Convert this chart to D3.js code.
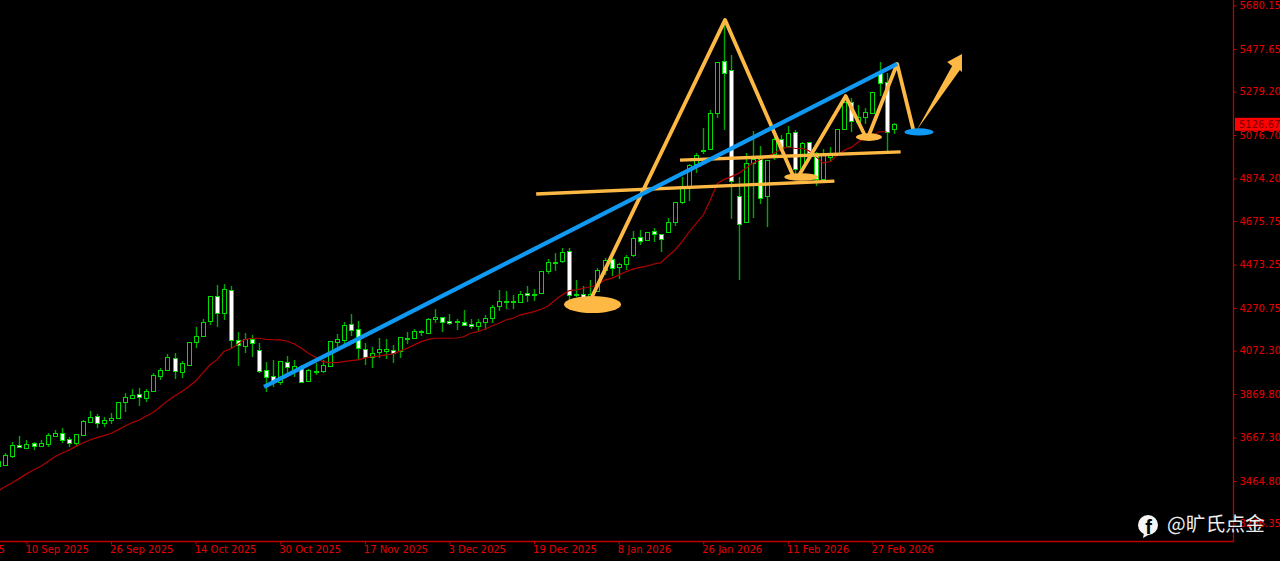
<!DOCTYPE html>
<html>
<head>
<meta charset="utf-8">
<script src="https://cdn.jsdelivr.net/npm/d3@7"></script>
<style>
	html, body { margin: 0; padding: 0; background: #000; overflow: hidden; }
	svg { display: block; }
	text { font-family: "DejaVu Sans", sans-serif; }
</style>
</head>
<body>
<div id="app"></div>
<script>
const barOpen = [
	3539,3539,3583,3634,3619,3644,3630,3639,3676,3687,
	3659,3639,3681,3740,3766,3734,3746,3755,3830,3852,
	3869,3853,3886,3956,3981,4036,3973,4002,4109,4140,
	4207,4328,4245,4353,4122,4091,4127,4074,3982,3954,
	3923,4019,3982,3998,3931,3973,3976,3998,4113,4122,
	4196,4172,4082,4044,4063,4075,4074,4069,4127,4133,
	4158,4153,4220,4229,4209,4206,4207,4195,4187,4209,
	4224,4277,4299,4301,4299,4339,4332,4339,4440,4481,
	4487,4537,4330,4338,4310,4352,4448,4497,4460,4479,
	4516,4603,4586,4628,4617,4623,4668,4763,4839,4938,
	5002,5010,5178,5423,5378,4791,4671,4945,4968,4792,
	4985,5058,5025,5090,4926,5042,4994,4873,4975,4994,
	5103,5229,5140,5157,5180,5368,5322,5103
];
const barClose = [
	3560,3585,3634,3623,3637,3631,3644,3679,3689,3656,
	3639,3682,3744,3762,3734,3749,3757,3831,3855,3864,
	3853,3884,3959,3984,4041,3974,4016,4111,4139,4204,
	4325,4249,4358,4122,4097,4125,4109,3977,3948,3926,
	4022,3998,3999,3929,3981,3979,4005,4116,4127,4192,
	4170,4085,4044,4063,4078,4082,4060,4134,4131,4164,
	4162,4218,4229,4204,4198,4210,4193,4187,4204,4226,
	4277,4302,4304,4304,4336,4332,4336,4443,4484,4485,
	4530,4332,4336,4319,4335,4448,4494,4455,4476,4510,
	4595,4586,4623,4615,4595,4670,4763,4828,4935,4982,
	5007,5178,5417,5369,4862,4660,4945,4965,4780,4960,
	5056,5022,5084,4918,5041,4991,4873,4983,4983,5104,
	5229,5140,5162,5182,5277,5322,5089,5126.67
];
const barHigh = [
	3565,3597,3645,3676,3656,3647,3656,3687,3701,3710,
	3671,3684,3749,3791,3779,3763,3782,3831,3873,3894,
	3898,3895,3967,3993,4058,4060,4026,4114,4182,4218,
	4327,4378,4383,4373,4161,4153,4144,4106,4021,4029,
	4024,4047,4029,4005,3985,4013,4029,4116,4148,4207,
	4243,4209,4106,4091,4131,4125,4097,4137,4161,4173,
	4169,4224,4265,4231,4243,4218,4260,4220,4221,4238,
	4283,4355,4350,4332,4349,4375,4358,4445,4498,4527,
	4549,4549,4401,4373,4401,4456,4502,4502,4482,4518,
	4629,4634,4626,4642,4617,4688,4763,4882,4940,4991,
	5111,5193,5418,5589,5449,4883,4994,5095,5025,4960,
	5069,5076,5118,5100,5045,5045,4999,5011,5022,5104,
	5239,5247,5216,5204,5277,5418,5364,5131
];
const barLow = [
	3535,3536,3572,3622,3614,3609,3628,3623,3676,3644,
	3623,3628,3681,3734,3712,3717,3730,3755,3786,3852,
	3814,3833,3886,3935,3979,3940,3943,4002,4086,4137,
	4192,4182,4215,4078,4001,4061,4041,3967,3881,3901,
	3912,3967,3951,3923,3928,3959,3970,3998,4091,4099,
	4141,4029,4005,3993,4036,4032,4016,4036,4103,4125,
	4141,4150,4203,4161,4190,4168,4190,4173,4165,4168,
	4203,4255,4265,4268,4296,4301,4304,4336,4429,4445,
	4479,4308,4321,4316,4290,4347,4424,4420,4404,4448,
	4510,4564,4583,4577,4533,4620,4653,4755,4771,4898,
	4988,5007,5157,5100,4684,4401,4665,4688,4755,4650,
	4960,5014,5014,4890,4921,4983,4839,4864,4952,4991,
	5100,5089,5131,5126,5174,5258,4999,5081
];
const maValues = [
	3418,3439,3457,3477,3498,3516,3532,3555,3578,3594,
	3608,3626,3642,3656,3667,3676,3687,3703,3721,3737,
	3749,3768,3785,3811,3838,3861,3881,3904,3931,3967,
	4005,4029,4068,4081,4103,4125,4130,4130,4125,4123,
	4122,4116,4103,4083,4060,4041,4021,4016,4016,4021,
	4026,4029,4037,4044,4047,4052,4057,4071,4083,4099,
	4114,4125,4130,4130,4130,4131,4137,4153,4161,4172,
	4187,4200,4215,4223,4238,4246,4254,4265,4280,4308,
	4332,4352,4355,4363,4370,4378,4401,4409,4424,4440,
	4452,4460,4466,4476,4482,4513,4541,4580,4626,4665,
	4704,4774,4851,4870,4883,4898,4921,4945,4960,4976,
	4991,5010,5022,5014,5014,5003,4975,4947,4952,4983,
	5006,5019,5045,5061,5076,5092,5092
];

const priceTicks = [5680.15,5477.65,5279.20,5076.70,4874.20,4675.75,4473.25,4270.75,4072.30,3869.80,3667.30,3464.80,3266.35];
const dateTickBars = [-8,4,16,28,40,52,64,76,88,100,112,124];
const dateTickLabels = ["25 Aug 2025","10 Sep 2025","26 Sep 2025","14 Oct 2025","30 Oct 2025","17 Nov 2025","3 Dec 2025","19 Dec 2025","8 Jan 2026","26 Jan 2026","11 Feb 2026","27 Feb 2026"];
const lastPrice = 5126.67;

// drawn annotations, [bar, price]
const blueTrend = [[37.7,3903],[127.5,5408]];
const necklineLow = [[76.3,4802],[118.6,4862]];
const necklineHigh = [[96.7,4960],[128,4998]];
const zigzagA = [[84.2,4322],[103.1,5613],[112.7,4890]];
const zigzagB = [[113.6,4890],[120.2,5258],[122.9,5077]];
const zigzagC = [[123.5,5077],[127.5,5408],[129.8,5100]];
const arrowShape = [[130.3,5100],[135.3,5398],[134.6,5417],[136.7,5454],[136.7,5370],[136.4,5380]];
const bigSpot = [84.3,4287];
const midSpot = [113.9,4881];
const smallSpot = [123.5,5067];
const blueSpot = [130.6,5091];

const width = 1280, height = 561;
const axisX = 1233.5, axisY = 541.5;
const axisRed = "#c00000", bodyGreen = "#00dc00", wickGreen = "#00a800";
const orange = "#fdb944", blue = "#0f99f2";

let svg = d3.select("#app").append("svg").attr("width", width).attr("height", height);

let x = d3.scaleLinear().domain([0,100]).range([-1.75,703.25]);
let y = d3.scaleLinear().domain([3266.35,5680.15]).range([523.6,5.5]);

function cx(i){
	return Math.round(x(i));
}

// axes
let yAxis = d3.axisRight(y).tickValues(priceTicks).tickSize(3).tickPadding(3).tickFormat(d3.format(".2f"));
let yG = svg.append("g").attr("transform", "translate("+axisX+",0)").call(yAxis);
let xAxis = d3.axisBottom(x).tickValues(dateTickBars).tickSize(3).tickFormat(function(d,i){ return dateTickLabels[i]; });
let xG = svg.append("g").attr("transform", "translate(0,"+axisY+")").call(xAxis);
xG.selectAll("text").attr("text-anchor","start").attr("dx","-1.5px").attr("y",4);
yG.selectAll(".domain").remove();
xG.selectAll(".domain").remove();
[yG,xG].forEach(function(g){
	g.attr("font-size",10).attr("font-family",'"DejaVu Sans", sans-serif');
	g.selectAll("line").attr("stroke",axisRed);
	g.selectAll("text").attr("fill","#e60000");
});
svg.append("line").attr("x1",axisX).attr("x2",axisX).attr("y1",0).attr("y2",axisY).attr("stroke",axisRed).attr("stroke-width",1.3);
svg.append("line").attr("x1",0).attr("x2",axisX).attr("y1",axisY).attr("y2",axisY).attr("stroke",axisRed).attr("stroke-width",1.3);

// last price tag
svg.append("rect").attr("x",1235).attr("y",y(lastPrice)-6.5).attr("width",45).attr("height",13).attr("fill","#ff0000");
svg.append("text").attr("x",1239).attr("y",y(lastPrice)+4).attr("font-size",10).attr("fill","#7a0000").text(d3.format(".2f")(lastPrice));

// candles
let bars = d3.range(barOpen.length);
let cG = svg.append("g");
cG.selectAll("line.wick").data(bars).enter().append("line").attr("class","wick")
	.attr("x1",function(i){ return cx(i)+0.5; })
	.attr("x2",function(i){ return cx(i)+0.5; })
	.attr("y1",function(i){ return Math.round(y(barHigh[i])); })
	.attr("y2",function(i){ return Math.round(y(barLow[i])); })
	.attr("stroke",wickGreen)
	.attr("stroke-width",1.4);
cG.selectAll("rect.body").data(bars).enter().append("rect").attr("class","body")
	.attr("x",function(i){ return cx(i)-1.5; })
	.attr("width",4)
	.attr("y",function(i){ return Math.round(y(Math.max(barOpen[i],barClose[i])))+0.5; })
	.attr("height",function(i){ return Math.max(1,Math.round(Math.abs(y(barOpen[i])-y(barClose[i])))); })
	.attr("fill",function(i){ return barClose[i]>=barOpen[i] ? "#000" : "#fff"; })
	.attr("stroke",bodyGreen);

// moving average
let maLine = d3.line().x(function(d,i){ return x(i); }).y(function(d){ return y(d); });
svg.append("path").datum(maValues).attr("d",maLine).attr("fill","none").attr("stroke","#b00000").attr("stroke-width",1.2);

// annotations
let ptLine = d3.line().x(function(d){ return x(d[0]); }).y(function(d){ return y(d[1]); });
function drawLine(pts, color, w){
	svg.append("path").datum(pts).attr("d",ptLine).attr("fill","none")
		.attr("stroke",color).attr("stroke-width",w).attr("stroke-linejoin","round");
}
function drawSpot(pt, rx, ry, color){
	svg.append("ellipse").attr("cx",x(pt[0])).attr("cy",y(pt[1])).attr("rx",rx).attr("ry",ry).attr("fill",color);
}
drawLine(necklineLow,orange,3.4);
drawLine(necklineHigh,orange,3.4);
drawLine(zigzagA,orange,3.8);
drawLine(zigzagB,orange,3.8);
drawLine(zigzagC,orange,3.8);
drawSpot(bigSpot,28.5,8.5,orange);
drawSpot(midSpot,17,3.8,orange);
drawSpot(smallSpot,13,3.8,orange);
svg.append("path").datum(arrowShape).attr("d",ptLine.curve(d3.curveLinearClosed)).attr("fill",orange);
ptLine.curve(d3.curveLinear);
drawLine(blueTrend,blue,4.2);
drawSpot(blueSpot,14.5,3.6,blue);

// watermark
let wm = svg.append("g");
wm.append("circle").attr("cx",1148).attr("cy",525).attr("r",10).attr("fill","#f4f4f4");
wm.append("path").attr("d","M1144 533L1143 538L1150 534Z").attr("fill","#f4f4f4");
wm.append("text").attr("x",1148.5).attr("y",534).attr("text-anchor","middle")
	.attr("font-size",20).attr("font-weight","bold").attr("fill","#000")
	.style("font-family",'"Liberation Sans", sans-serif').text("f");
wm.append("text").attr("x",1167).attr("y",531).attr("font-size",19.8).attr("fill","#ececec")
	.style("font-family",'"Noto Sans CJK SC", sans-serif').text("@旷氏点金");
</script>
</body>
</html>
